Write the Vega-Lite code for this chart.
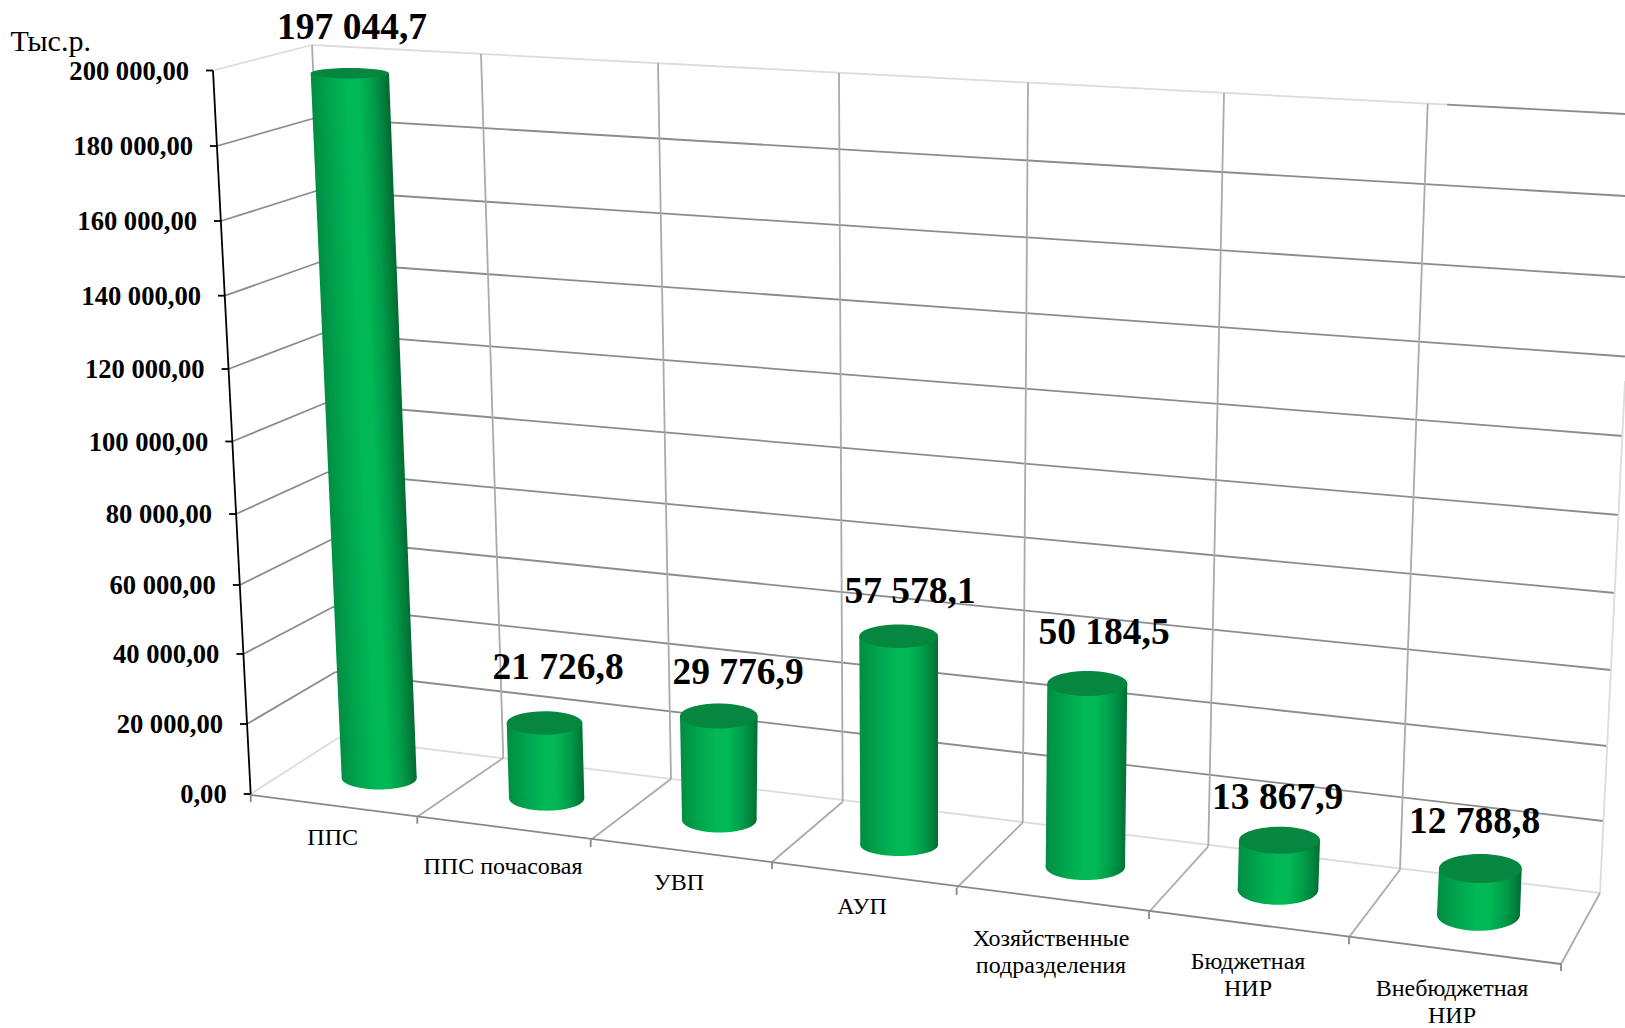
{
"$schema":"https://vega.github.io/schema/vega-lite/v6.json",
"width":1625,"height":1028,"padding":0,"autosize":{"type":"none"},"background":"white",
"config":{"view":{"stroke":null},"axis":{"disable":true},"legend":{"disable":true},"locale":{"number":{"decimal":",","thousands":" ","grouping":[3],"currency":["",""]}},"text":{"font":"Liberation Serif"}},
"resolve":{"scale":{"shape":"independent"}},
"datasets":{
"bars":[
{"category":"ППС","value":197044.7,"topX":1.749,"topY":198913,"botX":1.896,"botY":4416,"valX":1.76,"valY":208380,"catX":1.6635,"catY":-14076},
{"category":"ППС почасовая","value":21726.8,"topX":2.7225,"topY":19596,"botX":2.7333,"botY":-1187,"valX":2.79,"valY":31740,"catX":2.515,"catY":-22163},
{"category":"УВП","value":29776.9,"topX":3.594,"topY":21528,"botX":3.5965,"botY":-7176,"valX":3.69,"valY":30360,"catX":3.395,"catY":-26496},
{"category":"АУП","value":57578.1,"topX":4.4933,"topY":43525,"botX":4.4958,"botY":-14076,"valX":4.55,"valY":52799,"catX":4.31,"catY":-33120},
{"category":"Хозяйственные\nподразделения","value":50184.5,"topX":5.4365,"topY":30498,"botX":5.4268,"botY":-20065,"valX":5.52,"valY":41400,"catX":5.255,"catY":-41952},
{"category":"Бюджетная\nНИР","value":13867.9,"topX":6.3975,"topY":-12751,"botX":6.39,"botY":-26413,"valX":6.3885,"valY":-4057,"catX":6.24,"catY":-48300},
{"category":"Внебюджетная\nНИР","value":12788.8,"topX":7.4018,"topY":-20562,"botX":7.3925,"botY":-33313,"valX":7.3725,"valY":-10764,"catX":7.26,"catY":-55752}
],
"bodies":[
{"bar":1,"xl":1.5535,"xr":1.945,"y":198913},{"bar":1,"xl":1.7085,"xr":2.0835,"y":4416},
{"bar":2,"xl":2.5335,"xr":2.9115,"y":19596},{"bar":2,"xl":2.545,"xr":2.9215,"y":-1187},
{"bar":3,"xl":3.4,"xr":3.788,"y":21528},{"bar":3,"xl":3.41,"xr":3.783,"y":-7176},
{"bar":4,"xl":4.2965,"xr":4.69,"y":43525},{"bar":4,"xl":4.3015,"xr":4.69,"y":-14076},
{"bar":5,"xl":5.2365,"xr":5.6365,"y":30498},{"bar":5,"xl":5.2285,"xr":5.625,"y":-20065},
{"bar":6,"xl":6.195,"xr":6.6,"y":-12751},{"bar":6,"xl":6.1885,"xr":6.5915,"y":-26413},
{"bar":7,"xl":7.195,"xr":7.6085,"y":-20562},{"bar":7,"xl":7.185,"xr":7.6,"y":-33313}
],
"levels":[
{"level":200000,"x":1.065,"y":199686},{"level":180000,"x":1.085,"y":178848},{"level":160000,"x":1.105,"y":158148},{"level":140000,"x":1.125,"y":137531},{"level":120000,"x":1.143,"y":117300},{"level":100000,"x":1.1615,"y":97290},{"level":80000,"x":1.1805,"y":77280},{"level":60000,"x":1.199,"y":57684},{"level":40000,"x":1.217,"y":38640},{"level":20000,"x":1.235,"y":19320},{"level":0,"x":1.2535,"y":0}
],
"grid":[
{"part":"faint","x":1.065,"y":199686,"x2":1.56,"y2":206724},
{"part":"wall","x":1.085,"y":178848,"x2":1.575,"y2":186576},
{"part":"wall","x":1.105,"y":158148,"x2":1.5875,"y2":166566},
{"part":"wall","x":1.125,"y":137531,"x2":1.6,"y2":146832},
{"part":"wall","x":1.143,"y":117300,"x2":1.615,"y2":127236},
{"part":"wall","x":1.1615,"y":97290,"x2":1.6275,"y2":107916},
{"part":"wall","x":1.1805,"y":77280,"x2":1.64,"y2":88872},
{"part":"wall","x":1.199,"y":57684,"x2":1.6525,"y2":70104},
{"part":"wall","x":1.217,"y":38640,"x2":1.665,"y2":51612},
{"part":"wall","x":1.235,"y":19320,"x2":1.6775,"y2":33672},
{"part":"faint","x":1.2535,"y":0,"x2":1.69,"y2":15456},
{"part":"faint","x":1.69,"y":15456,"x2":8.0,"y2":-27324},
{"part":"wall","x":1.6775,"y":33672,"x2":8.015,"y2":-7452},
{"part":"wall","x":1.665,"y":51612,"x2":8.035,"y2":13248},
{"part":"wall","x":1.6525,"y":70104,"x2":8.055,"y2":34224},
{"part":"wall","x":1.64,"y":88872,"x2":8.075,"y2":55476},
{"part":"wall","x":1.6275,"y":107916,"x2":8.095,"y2":77004},
{"part":"wall","x":1.615,"y":127236,"x2":8.115,"y2":98808},
{"part":"wall","x":1.6,"y":146832,"x2":8.125,"y2":120750},
{"part":"wall","x":1.5875,"y":166566,"x2":8.125,"y2":142692},
{"part":"wall","x":1.575,"y":186576,"x2":8.125,"y2":165048},
{"part":"faint","x":1.56,"y":206724,"x2":7.235,"y2":190274},
{"part":"wall","x":7.235,"y":190274,"x2":8.125,"y2":187680},
{"part":"vert","x":1.56,"y":206724,"x2":1.72,"y2":15456},
{"part":"vert","x":2.405,"y":204240,"x2":2.5165,"y2":9936},
{"part":"vert","x":3.29,"y":201756,"x2":3.355,"y2":4140},
{"part":"vert","x":4.195,"y":199079,"x2":4.2135,"y2":-2125},
{"part":"vert","x":5.14,"y":196346,"x2":5.1135,"y2":-7921},
{"part":"vert","x":6.12,"y":193476,"x2":6.0415,"y2":-14435},
{"part":"vert","x":7.1385,"y":190550,"x2":7.0,"y2":-20893},
{"part":"faint","x":8.125,"y":113988,"x2":8.0,"y2":-27324},
{"part":"vert","x":2.0865,"y":-6265,"x2":2.5165,"y2":9936},
{"part":"vert","x":2.9535,"y":-12696,"x2":3.355,"y2":4140},
{"part":"vert","x":3.86,"y":-18768,"x2":4.2135,"y2":-2125},
{"part":"vert","x":4.783,"y":-25944,"x2":5.1135,"y2":-7921},
{"part":"vert","x":5.745,"y":-32568,"x2":6.0415,"y2":-14435},
{"part":"vert","x":6.745,"y":-39551,"x2":7.0,"y2":-20893},
{"part":"vert","x":7.805,"y":-46920,"x2":8.0,"y2":-27324},
{"part":"front","x":1.2535,"y":-276,"x2":7.805,"y2":-46920},
{"part":"front","x":1.2535,"y":-276,"x2":1.2535,"y2":-2208},
{"part":"front","x":2.0865,"y":-6265,"x2":2.0865,"y2":-8197},
{"part":"front","x":2.9535,"y":-12696,"x2":2.9535,"y2":-14628},
{"part":"front","x":3.86,"y":-18768,"x2":3.86,"y2":-20700},
{"part":"front","x":4.783,"y":-25944,"x2":4.783,"y2":-27876},
{"part":"front","x":5.745,"y":-32568,"x2":5.745,"y2":-34500},
{"part":"front","x":6.745,"y":-39551,"x2":6.745,"y2":-41483},
{"part":"front","x":7.805,"y":-46920,"x2":7.805,"y2":-48852},
{"part":"axis","x":1.065,"y":199686,"x2":1.2535,"y2":0},
{"part":"axis","x":1.03,"y":199686,"x2":1.065,"y2":199686},
{"part":"axis","x":1.05,"y":178848,"x2":1.085,"y2":178848},
{"part":"axis","x":1.07,"y":158148,"x2":1.105,"y2":158148},
{"part":"axis","x":1.09,"y":137531,"x2":1.125,"y2":137531},
{"part":"axis","x":1.108,"y":117300,"x2":1.143,"y2":117300},
{"part":"axis","x":1.1265,"y":97290,"x2":1.1615,"y2":97290},
{"part":"axis","x":1.1455,"y":77280,"x2":1.1805,"y2":77280},
{"part":"axis","x":1.164,"y":57684,"x2":1.199,"y2":57684},
{"part":"axis","x":1.182,"y":38640,"x2":1.217,"y2":38640},
{"part":"axis","x":1.2,"y":19320,"x2":1.235,"y2":19320},
{"part":"axis","x":1.2185,"y":0,"x2":1.2535,"y2":0}
]
},
"layer":[
{"data":{"name":"grid"},"mark":{"type":"rule","strokeWidth":1.8},
 "encoding":{
  "x":{"field":"x","type":"quantitative","scale":{"domain":[0,8.125],"nice":false,"zero":false}},
  "y":{"field":"y","type":"quantitative","scale":{"domain":[-64584,219144],"nice":false,"zero":false}},
  "x2":{"field":"x2"},"y2":{"field":"y2"},
  "color":{"field":"part","type":"nominal","scale":{"domain":["wall","vert","faint","front","axis"],"range":["#8c8c8c","#ababab","#dcdcdc","#888888","#000000"]}}
 }},
{"data":{"name":"bars"},
 "mark":{"type":"point","filled":true,"opacity":1,"size":10000,"stroke":null,
  "fill":{"gradient":"linear","x1":0,"y1":0,"x2":1,"y2":0,"stops":[{"offset":0,"color":"#008D42"},{"offset":0.25,"color":"#00A64E"},{"offset":0.48,"color":"#00B956"},{"offset":0.62,"color":"#00B956"},{"offset":0.82,"color":"#009A48"},{"offset":1,"color":"#006E33"}]}},
 "encoding":{
  "x":{"field":"botX","type":"quantitative","scale":{"domain":[0,8.125],"nice":false,"zero":false}},
  "y":{"field":"botY","type":"quantitative","scale":{"domain":[-64584,219144],"nice":false,"zero":false}},
  "shape":{"field":"category","type":"nominal","sort":null,"scale":{"domain":["ППС","ППС почасовая","УВП","АУП","Хозяйственные\nподразделения","Бюджетная\nНИР","Внебюджетная\nНИР"],
   "range":["M-0.75,0A0.75,0.23 0 1,1 0.75,0A0.75,0.23 0 1,1 -0.75,0Z","M-0.752,0A0.752,0.248 0 1,1 0.752,0A0.752,0.248 0 1,1 -0.752,0Z","M-0.746,0A0.746,0.25 0 1,1 0.746,0A0.746,0.25 0 1,1 -0.746,0Z","M-0.778,0A0.778,0.22 0 1,1 0.778,0A0.778,0.22 0 1,1 -0.778,0Z","M-0.794,0A0.794,0.266 0 1,1 0.794,0A0.794,0.266 0 1,1 -0.794,0Z","M-0.806,0A0.806,0.3 0 1,1 0.806,0A0.806,0.3 0 1,1 -0.806,0Z","M-0.83,0A0.83,0.32 0 1,1 0.83,0A0.83,0.32 0 1,1 -0.83,0Z"]}}
 }},
{"data":{"name":"bodies"},"transform":[{"filter":"datum.bar > 1"}],
 "mark":{"type":"area","orient":"horizontal",
  "fill":{"gradient":"linear","x1":0,"y1":0,"x2":1,"y2":0,"stops":[{"offset":0,"color":"#008D42"},{"offset":0.25,"color":"#00A64E"},{"offset":0.48,"color":"#00B956"},{"offset":0.62,"color":"#00B956"},{"offset":0.82,"color":"#009A48"},{"offset":1,"color":"#006E33"}]}},
 "encoding":{
  "x":{"field":"xl","type":"quantitative","stack":null,"scale":{"domain":[0,8.125],"nice":false,"zero":false}},
  "x2":{"field":"xr"},
  "y":{"field":"y","type":"quantitative","scale":{"domain":[-64584,219144],"nice":false,"zero":false}},
  "detail":{"field":"bar","type":"nominal"}
 }},
{"data":{"name":"bodies"},"transform":[{"filter":"datum.bar == 1"}],
 "mark":{"type":"area","orient":"horizontal",
  "fill":{"gradient":"linear","x1":0,"y1":0,"x2":0.67,"y2":-0.186,"stops":[{"offset":0,"color":"#008D42"},{"offset":0.25,"color":"#00A64E"},{"offset":0.48,"color":"#00B956"},{"offset":0.62,"color":"#00B956"},{"offset":0.82,"color":"#009A48"},{"offset":1,"color":"#006E33"}]}},
 "encoding":{
  "x":{"field":"xl","type":"quantitative","stack":null,"scale":{"domain":[0,8.125],"nice":false,"zero":false}},
  "x2":{"field":"xr"},
  "y":{"field":"y","type":"quantitative","scale":{"domain":[-64584,219144],"nice":false,"zero":false}}
 }},
{"data":{"name":"bars"},
 "mark":{"type":"point","filled":true,"opacity":1,"size":10000,"stroke":null,"fill":"#05873F"},
 "encoding":{
  "x":{"field":"topX","type":"quantitative","scale":{"domain":[0,8.125],"nice":false,"zero":false}},
  "y":{"field":"topY","type":"quantitative","scale":{"domain":[-64584,219144],"nice":false,"zero":false}},
  "shape":{"field":"category","type":"nominal","sort":null,"scale":{"domain":["ППС","ППС почасовая","УВП","АУП","Хозяйственные\nподразделения","Бюджетная\nНИР","Внебюджетная\nНИР"],
   "range":["M-0.784,0C-0.784,-0.0574,-0.433,-0.104,0,-0.104C0.433,-0.104,0.784,-0.0574,0.784,0C0.784,0.0574,0.433,0.104,0,0.104C-0.433,0.104,-0.784,0.0574,-0.784,0Z","M-0.756,0A0.756,0.236 0 1,1 0.756,0A0.756,0.236 0 1,1 -0.756,0Z","M-0.776,0A0.776,0.25 0 1,1 0.776,0A0.776,0.25 0 1,1 -0.776,0Z","M-0.788,0A0.788,0.234 0 1,1 0.788,0A0.788,0.234 0 1,1 -0.788,0Z","M-0.8,0A0.8,0.25 0 1,1 0.8,0A0.8,0.25 0 1,1 -0.8,0Z","M-0.81,0A0.81,0.27 0 1,1 0.81,0A0.81,0.27 0 1,1 -0.81,0Z","M-0.828,0A0.828,0.29 0 1,1 0.828,0A0.828,0.29 0 1,1 -0.828,0Z"]}}
 }},
{"data":{"name":"bars"},
 "mark":{"type":"text","font":"Liberation Serif","fontWeight":"bold","fontSize":37.5,"align":"center","baseline":"alphabetic","color":"#000000"},
 "encoding":{
  "x":{"field":"valX","type":"quantitative","scale":{"domain":[0,8.125],"nice":false,"zero":false}},
  "y":{"field":"valY","type":"quantitative","scale":{"domain":[-64584,219144],"nice":false,"zero":false}},
  "text":{"field":"value","type":"quantitative","format":",.1f"}
 }},
{"data":{"name":"bars"},
 "mark":{"type":"text","font":"Liberation Serif","fontSize":24,"align":"center","baseline":"alphabetic","color":"#000000","lineBreak":"\n","lineHeight":26.5},
 "encoding":{
  "x":{"field":"catX","type":"quantitative","scale":{"domain":[0,8.125],"nice":false,"zero":false}},
  "y":{"field":"catY","type":"quantitative","scale":{"domain":[-64584,219144],"nice":false,"zero":false}},
  "text":{"field":"category","type":"nominal"}
 }},
{"data":{"name":"levels"},
 "mark":{"type":"text","font":"Liberation Serif","fontWeight":"bold","fontSize":26.6,"align":"right","baseline":"middle","dx":-24,"dy":1,"color":"#000000"},
 "encoding":{
  "x":{"field":"x","type":"quantitative","scale":{"domain":[0,8.125],"nice":false,"zero":false}},
  "y":{"field":"y","type":"quantitative","scale":{"domain":[-64584,219144],"nice":false,"zero":false}},
  "text":{"field":"level","type":"quantitative","format":",.2f"}
 }},
{"data":{"values":[{"unit":"Тыс.р.","x":0.053,"y":205151}]},
 "mark":{"type":"text","font":"Liberation Serif","fontSize":30,"align":"left","baseline":"alphabetic","color":"#000000"},
 "encoding":{
  "x":{"field":"x","type":"quantitative","scale":{"domain":[0,8.125],"nice":false,"zero":false}},
  "y":{"field":"y","type":"quantitative","scale":{"domain":[-64584,219144],"nice":false,"zero":false}},
  "text":{"field":"unit","type":"nominal"}
 }}
]
}
